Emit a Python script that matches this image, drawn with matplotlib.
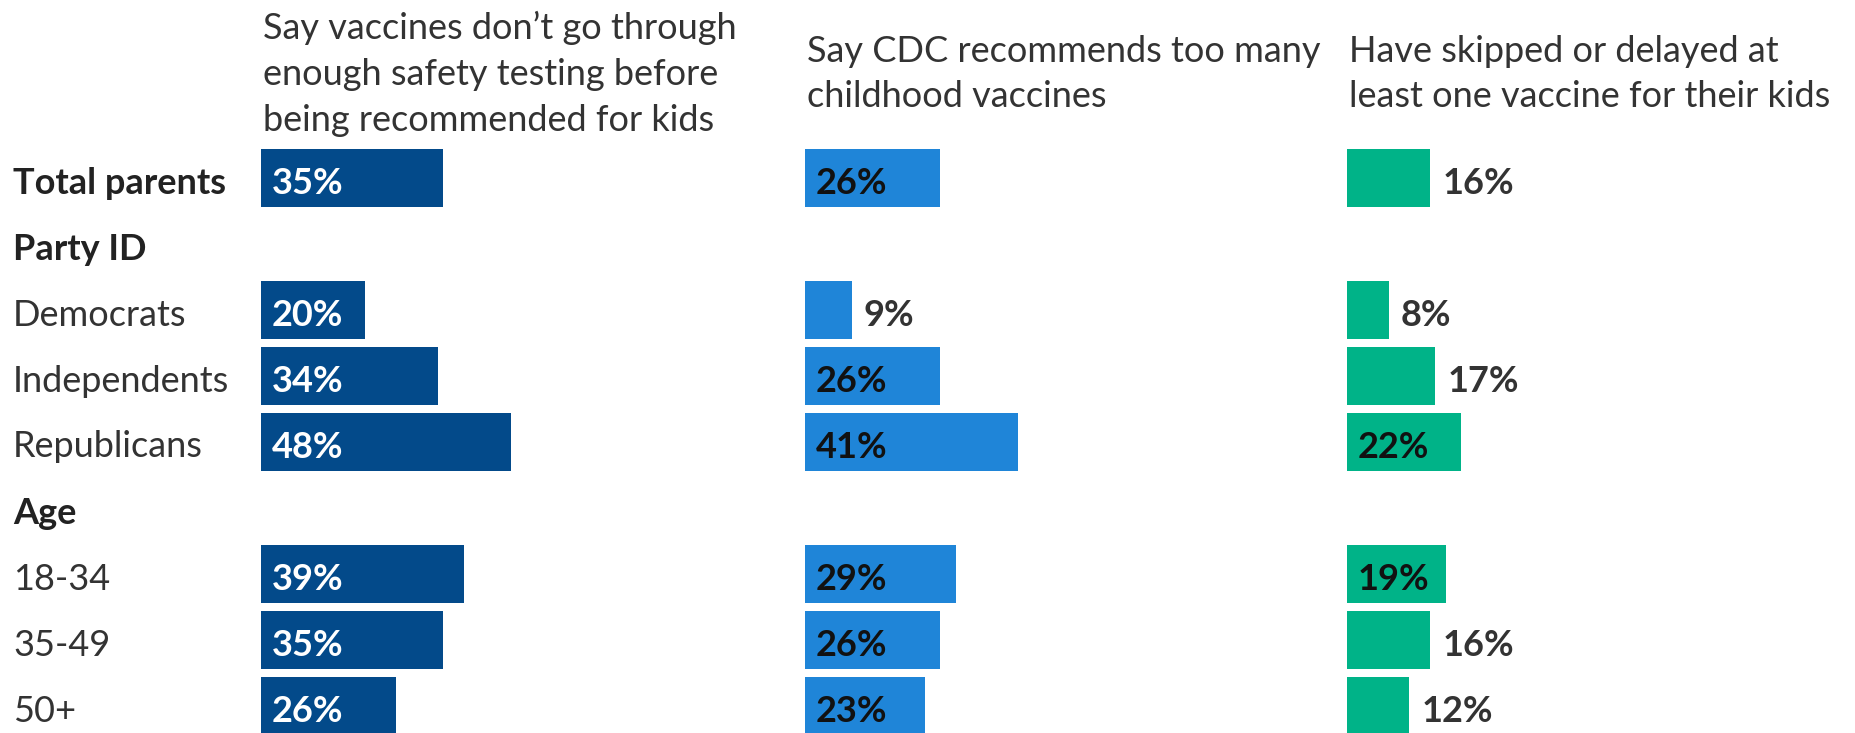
import matplotlib
matplotlib.use('Agg')
import matplotlib.pyplot as plt

# -- data --
row_labels = ['Total parents', 'Party ID', 'Democrats', 'Independents', 'Republicans',
              'Age', '18-34', '35-49', '50+']
header_rows = ['Total parents', 'Party ID', 'Age']

titles = ["Say vaccines don\u2019t go through\nenough safety testing before\nbeing recommended for kids",
          "Say CDC recommends too many\nchildhood vaccines",
          "Have skipped or delayed at\nleast one vaccine for their kids"]

# None = group header row without a bar
unsafe_testing = [35, None, 20, 34, 48, None, 39, 35, 26]
too_many = [26, None, 9, 26, 41, None, 29, 26, 23]
skipped = [16, None, 8, 17, 22, None, 19, 16, 12]

series = [unsafe_testing, too_many, skipped]
colors = ['#034a8a', '#1f85d8', '#00b388']
inside_text = ['white', '#111111', '#111111']

plt.rcParams['font.family'] = ['Lato', 'DejaVu Sans']

W, H = 1856, 733
fig = plt.figure(figsize=(W / 100, H / 100), dpi=100)

col_left = [261, 805, 1347]    # px
px_per_pct = 5.2
row0, row_step = 178, 66       # px centre of first row, spacing
y_top = (0 - row0) / row_step
y_bot = (H - row0) / row_step
ax_w = 520
fs = 26
txt_dy = 5 / row_step          # nudge text down a little to sit centred on the bars

for k in range(3):
    ax = fig.add_axes([col_left[k] / W, 0, ax_w / W, 1])
    ax.set_xlim(0, ax_w / px_per_pct)
    ax.set_ylim(y_bot, y_top)
    ax.axis('off')
    for i, v in enumerate(series[k]):
        if v is None:
            continue
        ax.barh(i, v, height=0.88, color=colors[k], edgecolor='none')
        if v >= 18:
            ax.text(2.0, i + txt_dy, f'{v}%', color=inside_text[k], fontsize=fs,
                    fontweight='bold', va='center', ha='left')
        else:
            ax.text(v + 2.3, i + txt_dy, f'{v}%', color='#333333', fontsize=fs,
                    fontweight='bold', va='center', ha='left')
    fig.text((col_left[k] + 2) / W, 1 - 74 / H, titles[k], fontsize=fs,
             color='#333333', va='center', ha='left', linespacing=1.48)

for i, lab in enumerate(row_labels):
    y = 1 - (row0 + row_step * i + 5) / H
    fig.text(13 / W, y, lab, fontsize=fs, color='#222222' if lab in header_rows else '#333333',
             fontweight='bold' if lab in header_rows else 'normal',
             va='center', ha='left')

fig.savefig('out.png', dpi=100, facecolor='white')
